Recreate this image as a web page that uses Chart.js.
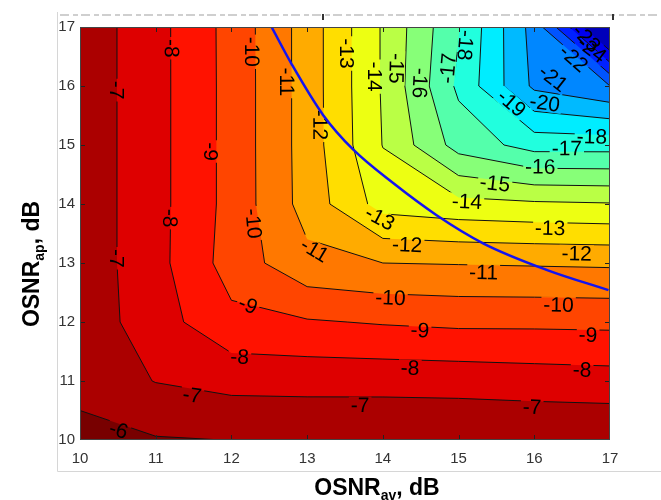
<!DOCTYPE html>
<html>
<head>
<meta charset="utf-8">
<script src="https://cdn.jsdelivr.net/npm/chart.js@4.4.1/dist/chart.umd.min.js"></script>
<style>
  html, body { margin: 0; padding: 0; background: #fff; }
  #wrap { width: 661px; height: 500px; }
</style>
</head>
<body>
<div id="wrap"><canvas id="chart" width="661" height="500"></canvas></div>
<script>
// grid of the measurement (dB)
const osnrAv = [10, 11, 12, 13, 14, 15, 16, 17];
const osnrAp = [10, 11, 12, 13, 14, 15, 16, 17];

// log10(BER) at every grid node, one row per OSNR_ap value, bottom row first
const logBer = [
  [-5.60, -5.93, -6.01, -6.02, -6.03, -6.04, -6.05, -6.06],
  [-6.40, -7.03, -7.32, -7.36, -7.36, -7.40, -7.50, -7.58],
  [-6.37, -7.56, -8.75, -8.91, -9.08, -9.20, -9.20, -9.23],
  [-6.36, -7.67, -9.43, -10.73, -11.00, -11.05, -11.10, -11.15],
  [-6.36, -7.67, -9.33, -11.40, -13.40, -13.70, -13.85, -13.94],
  [-6.36, -7.67, -9.33, -11.43, -14.03, -16.40, -17.40, -17.40],
  [-6.36, -7.67, -9.33, -11.43, -14.10, -17.20, -20.20, -21.00],
  [-6.36, -7.67, -9.34, -11.43, -14.10, -16.95, -20.40, -26.00],
];

// contour levels
const contourLevels = [-24, -23, -22, -21, -20, -19, -18, -17, -16, -15, -14, -13, -12, -11, -10, -9, -8, -7, -6];

// inline contour labels
const labelLevels = [-8, -7, -10, -9, -8, -7, -10, -11, -12, -13, -14, -15, -16, -17, -18,
  -19, -20, -21, -22, -23, -24, -18, -17, -16, -15, -14, -13, -12, -11,
  -13, -12, -11, -10, -9, -8, -7, -10, -9, -8, -7, -9, -8, -7, -6];
const labelAv = [11.21, 10.48, 12.27, 11.73, 11.19, 10.49, 12.29, 12.73, 13.17, 13.52, 13.90, 14.18, 14.49, 14.86, 15.09,
  15.70, 16.14, 16.25, 16.52, 16.69, 16.76, 16.76, 16.43, 16.08, 15.48, 15.11, 16.21, 16.56, 15.33,
  13.96, 14.32, 13.10, 14.10, 14.49, 14.36, 13.70, 16.32, 16.71, 16.63, 15.97, 12.22, 12.11, 11.48, 10.51];
const labelAp = [16.64, 15.93, 16.58, 14.89, 13.76, 13.08, 13.67, 16.07, 15.34, 16.55, 16.16, 16.30, 16.05, 16.30, 16.69,
  15.71, 15.71, 16.13, 16.47, 16.81, 16.62, 15.14, 14.94, 14.63, 14.35, 14.04, 13.59, 13.16, 12.84,
  13.76, 13.31, 13.22, 12.41, 11.86, 11.22, 10.59, 12.29, 11.78, 11.19, 10.56, 12.29, 11.41, 10.76, 10.17];

// blue limit curve
const limitAv = [12.53, 12.80, 13.21, 13.61, 14.14, 14.71, 15.33, 16.17, 16.98];
const limitAp = [17.00, 16.36, 15.51, 14.92, 14.35, 13.81, 13.33, 12.88, 12.54];

const LABEL_FONT = '21px "Liberation Sans", Arial, sans-serif';

function jet(t) {
  const c = v => Math.round(255 * Math.max(0, Math.min(1, v)));
  return `rgb(${c(1.5 - Math.abs(4 * t - 3))},${c(1.5 - Math.abs(4 * t - 2))},${c(1.5 - Math.abs(4 * t - 1))})`;
}
// colour of the band whose upper bound is `upper`
function bandColor(upper) {
  return jet((upper + 25.15) / 20);
}

function zAt(xv, yv) {
  let i = Math.min(osnrAv.length - 2, Math.max(0, Math.floor(xv - osnrAv[0])));
  let j = Math.min(osnrAp.length - 2, Math.max(0, Math.floor(yv - osnrAp[0])));
  const tx = (xv - osnrAv[i]) / (osnrAv[i + 1] - osnrAv[i]);
  const ty = (yv - osnrAp[j]) / (osnrAp[j + 1] - osnrAp[j]);
  return logBer[j][i] * (1 - tx) * (1 - ty) + logBer[j][i + 1] * tx * (1 - ty) +
    logBer[j + 1][i] * (1 - tx) * ty + logBer[j + 1][i + 1] * tx * ty;
}

function labelBoxes(chart) {
  const { ctx, scales: { x, y } } = chart;
  ctx.save();
  ctx.font = LABEL_FONT;
  const boxes = labelLevels.map((lv, k) => {
    const cx = x.getPixelForValue(labelAv[k]);
    const cy = y.getPixelForValue(labelAp[k]);
    const d = 0.01;
    const gx = (zAt(labelAv[k] + d, labelAp[k]) - zAt(labelAv[k] - d, labelAp[k])) /
      (x.getPixelForValue(labelAv[k] + d) - x.getPixelForValue(labelAv[k] - d));
    const gy = (zAt(labelAv[k], labelAp[k] + d) - zAt(labelAv[k], labelAp[k] - d)) /
      (y.getPixelForValue(labelAp[k] + d) - y.getPixelForValue(labelAp[k] - d));
    let ang = Math.atan2(gx, -gy);
    while (ang > Math.PI * 95 / 180) ang -= Math.PI;
    while (ang <= -Math.PI * 85 / 180) ang += Math.PI;
    const text = String(lv);
    return { text, cx, cy, ang, w: ctx.measureText(text).width + 4, h: 17 };
  });
  ctx.restore();
  return boxes;
}

const contourPlugin = {
  id: 'contourFill',
  beforeDatasetsDraw(chart) {
    const { ctx, chartArea: a, scales: { x, y } } = chart;
    const P = p => [x.getPixelForValue(p[0]), y.getPixelForValue(p[1])];
    ctx.save();
    ctx.beginPath();
    ctx.rect(a.left, a.top, a.width, a.height);
    ctx.clip();
    ctx.fillStyle = bandColor(contourLevels[0]);
    ctx.fillRect(a.left, a.top, a.width, a.height);

    const segments = [];
    contourLevels.forEach(L => {
      ctx.beginPath();
      for (let j = 0; j < osnrAp.length - 1; j++) {
        for (let i = 0; i < osnrAv.length - 1; i++) {
          const c = [[i, j], [i + 1, j], [i + 1, j + 1], [i, j + 1]];
          const pts = [], cross = [];
          for (let k = 0; k < 4; k++) {
            const [i0, j0] = c[k], [i1, j1] = c[(k + 1) % 4];
            const z0 = logBer[j0][i0], z1 = logBer[j1][i1];
            if (z0 >= L) pts.push([osnrAv[i0], osnrAp[j0]]);
            if ((z0 >= L) !== (z1 >= L)) {
              const t = (L - z0) / (z1 - z0);
              const p = [osnrAv[i0] + t * (osnrAv[i1] - osnrAv[i0]), osnrAp[j0] + t * (osnrAp[j1] - osnrAp[j0])];
              pts.push(p);
              cross.push({ p, exit: z0 >= L });
            }
          }
          if (pts.length > 2) {
            pts.forEach((p, m) => {
              const [u, v] = P(p);
              m ? ctx.lineTo(u, v) : ctx.moveTo(u, v);
            });
            ctx.closePath();
          }
          cross.forEach((cr, m) => {
            if (cr.exit) segments.push([cr.p, cross[(m + 1) % cross.length].p]);
          });
        }
      }
      ctx.fillStyle = bandColor(L + 1);
      ctx.fill();
    });

    // contour lines, broken where the labels sit
    const boxes = labelBoxes(chart);
    ctx.save();
    ctx.beginPath();
    ctx.rect(a.left, a.top, a.width, a.height);
    boxes.forEach(b => {
      const cs = Math.cos(b.ang), sn = Math.sin(b.ang);
      const corners = [[-b.w / 2, -b.h / 2], [b.w / 2, -b.h / 2], [b.w / 2, b.h / 2], [-b.w / 2, b.h / 2]];
      corners.forEach(([u, v], m) => {
        const X = b.cx + u * cs - v * sn, Y = b.cy + u * sn + v * cs;
        m ? ctx.lineTo(X, Y) : ctx.moveTo(X, Y);
      });
      ctx.closePath();
    });
    ctx.clip('evenodd');
    ctx.strokeStyle = '#111';
    ctx.lineWidth = 1;
    ctx.beginPath();
    segments.forEach(([p, q]) => {
      const [u1, v1] = P(p), [u2, v2] = P(q);
      ctx.moveTo(u1, v1);
      ctx.lineTo(u2, v2);
    });
    ctx.stroke();
    ctx.restore();

    ctx.font = LABEL_FONT;
    ctx.fillStyle = '#000';
    ctx.textAlign = 'center';
    ctx.textBaseline = 'middle';
    boxes.forEach(b => {
      ctx.save();
      ctx.translate(b.cx, b.cy);
      ctx.rotate(b.ang);
      ctx.fillText(b.text, 0, 1);
      ctx.restore();
    });
    ctx.restore();
  },
  afterDatasetsDraw(chart) {
    const { ctx, chartArea: a, scales: { x, y } } = chart;
    ctx.save();
    ctx.strokeStyle = '#222';
    ctx.lineWidth = 1;
    ctx.beginPath();
    osnrAv.slice(1, -1).forEach(v => {
      const u = Math.round(x.getPixelForValue(v)) + 0.5;
      ctx.moveTo(u, a.bottom); ctx.lineTo(u, a.bottom - 5);
      ctx.moveTo(u, a.top); ctx.lineTo(u, a.top + 5);
    });
    osnrAp.slice(1, -1).forEach(v => {
      const w = Math.round(y.getPixelForValue(v)) + 0.5;
      ctx.moveTo(a.left, w); ctx.lineTo(a.left + 5, w);
      ctx.moveTo(a.right, w); ctx.lineTo(a.right - 5, w);
    });
    ctx.stroke();
    ctx.strokeStyle = '#444';
    ctx.strokeRect(a.left + 0.5, a.top + 0.5, a.width - 1, a.height - 1);
    ctx.restore();
  },
  afterDraw(chart) {
    const { ctx } = chart;
    ctx.save();
    // light frame of the pasted figure and the cut-off caption above it
    ctx.strokeStyle = '#d6d6d6';
    ctx.lineWidth = 1;
    ctx.beginPath();
    ctx.moveTo(57.5, 12); ctx.lineTo(57.5, 471.5); ctx.lineTo(661, 471.5);
    ctx.stroke();
    ctx.strokeStyle = '#cfcfcf';
    ctx.lineWidth = 2;
    ctx.setLineDash([9, 4, 5, 3]);
    ctx.beginPath();
    ctx.moveTo(60, 15); ctx.lineTo(661, 15);
    ctx.stroke();
    ctx.setLineDash([]);
    ctx.fillStyle = '#333';
    ctx.fillRect(322, 14, 2, 6);
    ctx.fillRect(612, 14, 2, 6);

    // axis titles with subscripts
    const big = 'bold 23px "Liberation Sans", Arial, sans-serif';
    const small = 'bold 14px "Liberation Sans", Arial, sans-serif';
    const drawTitle = (main, sub, tail) => {
      ctx.font = big; const w1 = ctx.measureText(main).width;
      ctx.font = small; const w2 = ctx.measureText(sub).width;
      ctx.font = big; const w3 = ctx.measureText(tail).width;
      let s = -(w1 + w2 + w3) / 2;
      ctx.textBaseline = 'alphabetic';
      ctx.textAlign = 'left';
      ctx.fillStyle = '#000';
      ctx.font = big; ctx.fillText(main, s, 0); s += w1;
      ctx.font = small; ctx.fillText(sub, s, 5); s += w2;
      ctx.font = big; ctx.fillText(tail, s, 0);
    };
    ctx.save();
    ctx.translate(377, 495);
    drawTitle('OSNR', 'av', ', dB');
    ctx.restore();
    ctx.save();
    ctx.translate(39, 264);
    ctx.rotate(-Math.PI / 2);
    drawTitle('OSNR', 'ap', ', dB');
    ctx.restore();
    ctx.restore();
  }
};

const tickFont = { family: '"Liberation Sans", Arial, sans-serif', size: 15 };

new Chart(document.getElementById('chart'), {
  type: 'scatter',
  data: {
    datasets: [{
      data: limitAv.map((v, i) => ({ x: v, y: limitAp[i] })),
      showLine: true,
      borderColor: '#1414f0',
      borderWidth: 2.5,
      pointRadius: 0,
      cubicInterpolationMode: 'monotone',
    }],
  },
  options: {
    responsive: false,
    animation: false,
    layout: { padding: { top: 27, right: 51, left: 0, bottom: 0 } },
    plugins: { legend: { display: false }, tooltip: { enabled: false } },
    scales: {
      x: {
        type: 'linear', min: 10, max: 17,
        afterFit: s => { s.height = 60; },
        grid: { display: false, drawTicks: false },
        border: { display: false },
        ticks: { stepSize: 1, color: '#333', font: tickFont, padding: 10, maxRotation: 0 },
      },
      y: {
        type: 'linear', min: 10, max: 17,
        afterFit: s => { s.width = 80; },
        grid: { display: false, drawTicks: false },
        border: { display: false },
        ticks: { stepSize: 1, color: '#333', font: tickFont, padding: 5 },
      },
    },
  },
  plugins: [contourPlugin],
});
</script>
</body>
</html>
